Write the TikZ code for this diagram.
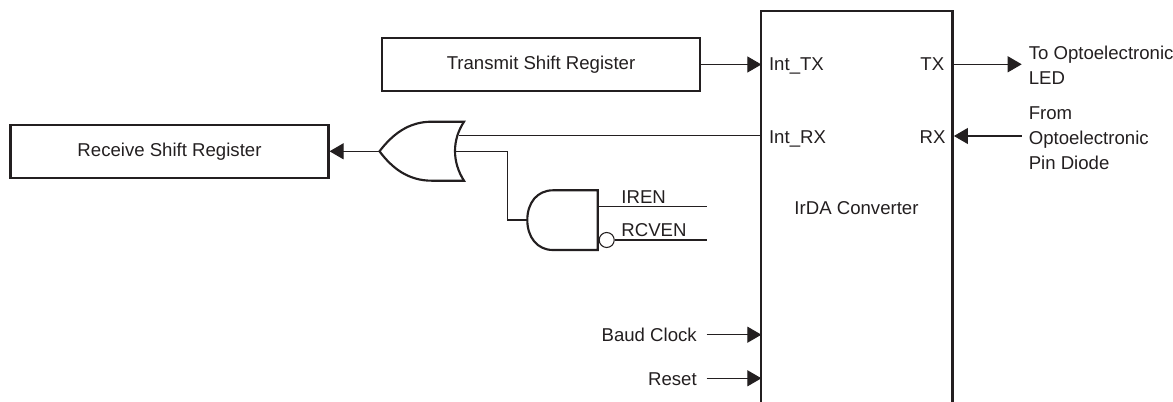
\documentclass[tikz,border=0pt]{standalone}
\usepackage{fontspec}
\setmainfont{Liberation Sans}
\usetikzlibrary{arrows.meta}

\definecolor{ink}{HTML}{231F20}

\tikzset{
    lbl/.style={inner sep=0pt, text=ink, font=\fontsize{13.95pt}{18.75pt}\selectfont},
    regbox/.style={draw=ink, line width=1.6pt, inner sep=0pt, minimum width=238.5pt, minimum height=39.5pt, lbl},
    gate/.style={draw=ink, line width=1.6pt, line join=miter},
    sig/.style={draw=ink, line width=0.8pt},
    sigarrow/.style={sig, -{Triangle[length=10.5pt,width=12pt]}}
}

\begin{document}
\begin{tikzpicture}[x=0.75pt, y=-0.75pt]

    \useasboundingbox (0,0) rectangle (1173,402);

    % converter block, open at the bottom
    \node[minimum width=142.9pt, minimum height=293.25pt, inner sep=0pt] (conv) at (856.9,206.5) {};
    \draw[gate] (conv.south west) -- (conv.north west) -- (conv.north east) -- (conv.south east);
    \node[lbl, anchor=base] (convname) at (856.5,214.5) {IrDA Converter};

    \node[regbox] (txreg) at (541,64.5) {Transmit Shift Register};
    \node[regbox] (rxreg) at (169.5,151.3) {Receive Shift Register};

    % pin labels
    \node[lbl, anchor=base west] (inttx) at (768.8,71) {Int\_TX};
    \node[lbl, anchor=base west] (intrx) at (768.8,143.3) {Int\_RX};
    \node[lbl, anchor=base east] (tx) at (944.5,71) {TX};
    \node[lbl, anchor=base east] (rx) at (945.7,143.3) {RX};
    \node[lbl, anchor=west, align=left] (led) at (1028.5,65) {To Optoelectronic\\LED};
    \node[lbl, anchor=west, align=left] (diode) at (1028.5,138) {From\\Optoelectronic\\Pin Diode};

    % OR gate
    \coordinate (orout) at (379.5,151.3);
    \coordinate (orina) at (459,135.7);
    \coordinate (orinb) at (456,151.3);
    \draw[gate] (431.7,121.7) -- (464,121.7) .. controls (452,140) and (452,162) .. (464,180.7)
        -- (431.7,180.7) .. controls (408,180.7) and (392,168) .. (orout)
        .. controls (392,135) and (408,121.7) .. (431.7,121.7) -- cycle;

    % AND gate
    \coordinate (andout) at (527.3,220);
    \coordinate (andina) at (597.7,206.7);
    \draw[gate] (553,190.3) -- (597.7,190.3) -- (597.7,250) -- (553,250)
        .. controls (537,250) and (527.3,237) .. (andout)
        .. controls (527.3,203) and (537,190.3) .. (553,190.3) -- cycle;
    \node[circle, draw=ink, line width=0.8pt, inner sep=0pt, minimum size=11.25pt] (bubble) at (606.7,240) {};

    \node[lbl, anchor=base west] (iren) at (621.2,204) {IREN};
    \node[lbl, anchor=base west] (rcven) at (621.2,237) {RCVEN};
    \coordinate (irenend) at (706.7,206.7);
    \coordinate (rcvenend) at (706.7,240);

    % connectors
    \draw[sigarrow] (txreg.east) -- (conv.west |- txreg.east);
    \draw[sig] (orina) -- (conv.west |- orina);
    \draw[sigarrow] (orout) -- (rxreg.east);
    \draw[sig] (orinb) -| (507.7,220) -- (andout);
    \draw[sig] (andina) -- (irenend);
    \draw[sig] (bubble.east) -- (rcvenend);

    \coordinate (txend) at (1021.7,64.3);
    \coordinate (rxend) at (1021.7,136);
    \draw[sigarrow] (conv.east |- txend) ++(1.5,0) -- (txend);
    \draw[sigarrow] (rxend) -- ([xshift=1.1pt]conv.east |- rxend);

    \foreach \name/\txt/\y in {baud/Baud Clock/334.7, rst/Reset/378.3} {
        \node[lbl, anchor=base east] (\name) at (697,\y+7) {\txt};
        \coordinate (\name end) at (706.7,\y);
        \draw[sigarrow] (\name end) -- (conv.west |- \name end);
    }

\end{tikzpicture}
\end{document}
